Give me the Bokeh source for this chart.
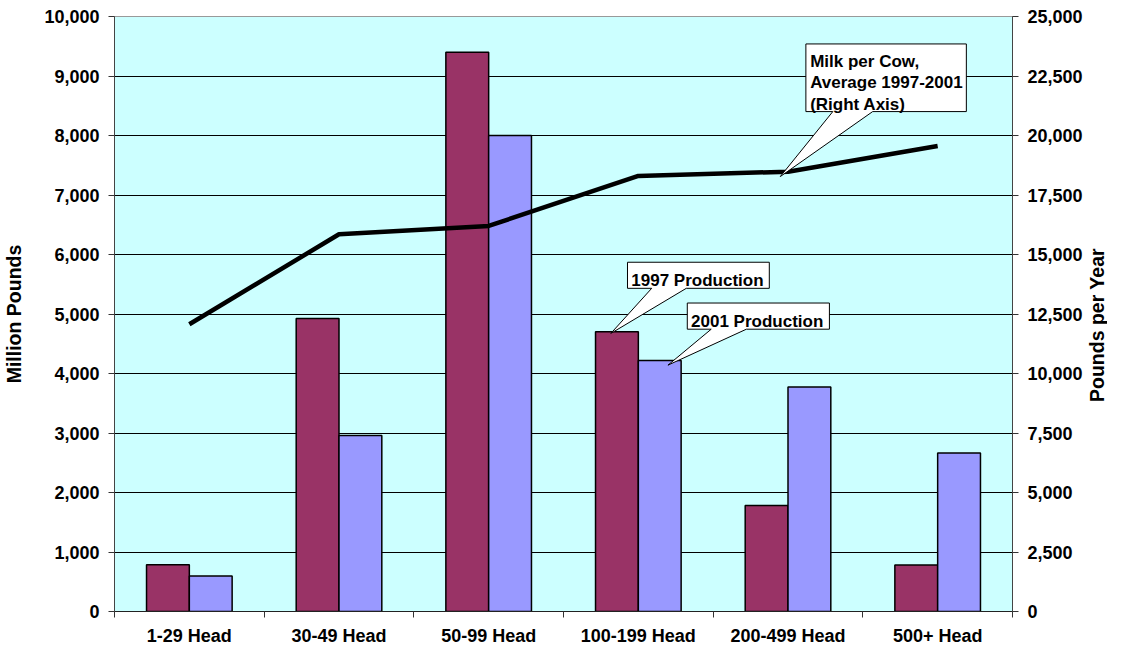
import math
import numpy as np
from bokeh.plotting import figure
from bokeh.layouts import row
from bokeh.models import Range1d, LinearAxis, FixedTicker, NumeralTickFormatter, Label
from bokeh.core.properties import value
from bokeh.embed import file_html
from bokeh.resources import INLINE

# ---------------- data ----------------
categories = ["1-29 Head", "30-49 Head", "50-99 Head", "100-199 Head", "200-499 Head", "500+ Head"]
prod_1997 = [785, 4925, 9400, 4700, 1780, 780]      # million pounds (left axis)
prod_2001 = [595, 2960, 8000, 4220, 3775, 2665]     # million pounds (left axis)
milk_per_cow = [12070, 15850, 16200, 18300, 18480, 19560]  # pounds per year (right axis)
left_ticks = list(range(0, 10001, 1000))
right_ticks = list(range(0, 25001, 2500))
left_label = "Million Pounds"
right_label = "Pounds per Year"
callout_milk = ["Milk per Cow,", "Average 1997-2001", "(Right Axis)"]
callout_1997 = ["1997 Production"]
callout_2001 = ["2001 Production"]

# ---------------- style ----------------
FONT = value("Liberation Sans")
C1997 = "#993366"
C2001 = "#9999FF"
BG = "#CCFFFF"
BAR_W = 0.286
H = 648
W_MAIN = 1085
W_SIDE = 22

n = len(categories)
centers = np.arange(n) + 0.5

p = figure(width=W_MAIN, height=H, output_backend="svg", toolbar_location=None,
           x_range=Range1d(0, n), y_range=Range1d(0, 10000),
           min_border_left=112, min_border_right=W_MAIN - 1013, min_border_top=16, min_border_bottom=30)
p.extra_y_ranges = {"right": Range1d(0, 25000)}
p.background_fill_color = BG
p.border_fill_color = "white"
p.outline_line_color = "#999999"
p.outline_line_width = 1

# grid
p.xgrid.visible = False
p.ygrid.ticker = FixedTicker(ticks=left_ticks[1:-1])
p.ygrid.grid_line_color = "black"
p.ygrid.grid_line_width = 1

# x axis: labels at centers, tick marks at category boundaries
xa = p.xaxis[0]
xa.ticker = FixedTicker(ticks=list(centers), minor_ticks=list(range(n + 1)))
xa.major_label_overrides = {float(c): cat for c, cat in zip(centers, categories)}
xa.major_tick_out = 0
xa.major_tick_in = 0
xa.minor_tick_out = 6
xa.minor_tick_in = 0
xa.minor_tick_line_color = "#333333"
xa.axis_line_color = "#222222"
xa.major_label_standoff = 8

# left axis
ya = p.yaxis[0]
ya.ticker = FixedTicker(ticks=left_ticks)
ya.formatter = NumeralTickFormatter(format="0,0")
ya.axis_label = left_label
ya.axis_line_color = "#444444"
ya.axis_label_standoff = 16

# right axis (its title is drawn in the narrow side panel)
ra = LinearAxis(y_range_name="right", ticker=FixedTicker(ticks=right_ticks),
                formatter=NumeralTickFormatter(format="0,0"))
ra.axis_line_color = "#444444"
p.add_layout(ra, "right")

for ax in (xa, ya, ra):
    ax.major_label_text_font = "Liberation Sans"
    ax.major_label_text_font_style = "bold"
    ax.major_label_text_font_size = "18px"
    ax.major_label_text_color = "black"
    ax.axis_label_text_font = "Liberation Sans"
    ax.axis_label_text_font_style = "bold"
    ax.axis_label_text_font_size = "19.5px"
    ax.axis_label_text_color = "black"
for ax in (ya, ra):
    ax.major_tick_out = 6
    ax.major_tick_in = 0
    ax.major_tick_line_color = "#333333"
    ax.minor_tick_line_color = None
    ax.major_label_standoff = 9

# bars
p.vbar(x=centers - BAR_W / 2, top=prod_1997, bottom=0, width=BAR_W,
       fill_color=C1997, line_color="black", line_width=1.5)
p.vbar(x=centers + BAR_W / 2, top=prod_2001, bottom=0, width=BAR_W,
       fill_color=C2001, line_color="black", line_width=1.5)

# line (right axis)
p.line(x=centers, y=milk_per_cow, y_range_name="right", line_color="black", line_width=4.5)

# ---------------- callouts (layout in reference-frame pixels) ----------------
FX0, FX1, FY0, FY1 = 112.0, 1013.0, 623.0, 16.0
def dx(px):
    return (px - FX0) / (FX1 - FX0) * n
def dy(py):
    return (FY0 - py) / (FY0 - FY1) * 10000

def callout(box, base, tip, lines, text_x, baselines):
    x0, y0, x1, y1 = box
    bl, br = base
    pts = [(x0, y0), (x1, y0), (x1, y1), (br, y1), tip, (bl, y1), (x0, y1)]
    p.patch([dx(a) for a, _ in pts], [dy(b) for _, b in pts],
            fill_color="white", line_color="black", line_width=1)
    p.text(x=[dx(text_x)] * len(lines), y=[dy(b) for b in baselines], text=lines,
           text_font=FONT, text_font_style="bold", text_font_size="17px",
           text_color="black", text_align="left", text_baseline="alphabetic")

callout((805.7, 44.0, 966.7, 113.0), (832.7, 872.7), (780.0, 179.3),
        callout_milk, 810.0, [61.5, 83.5, 105.5])
callout((626.7, 266.7, 769.0, 293.3), (651.0, 685.7), (610.0, 339.3),
        callout_1997, 630.5, [285.5])
callout((686.7, 308.3, 829.3, 335.0), (710.7, 746.0), (667.3, 371.7),
        callout_2001, 690.5, [327.0])

# ---------------- right axis title (narrow side panel, reads bottom-to-top) ----------------
side = figure(width=W_SIDE, height=H, output_backend="svg", toolbar_location=None,
              x_range=Range1d(0, 1), y_range=Range1d(0, H), x_axis_type=None, y_axis_type=None,
              min_border=0)
side.outline_line_color = None
side.background_fill_color = "white"
side.border_fill_color = "white"
side.grid.visible = False
side.add_layout(Label(x=0.5, y=H - 336, text=right_label, angle=math.pi / 2,
                      text_align="center", text_baseline="middle",
                      text_font="Liberation Sans", text_font_style="bold",
                      text_font_size="19.5px", text_color="black"))

layout = row(p, side, spacing=0)
open("out.html", "w").write(file_html(layout, INLINE))
